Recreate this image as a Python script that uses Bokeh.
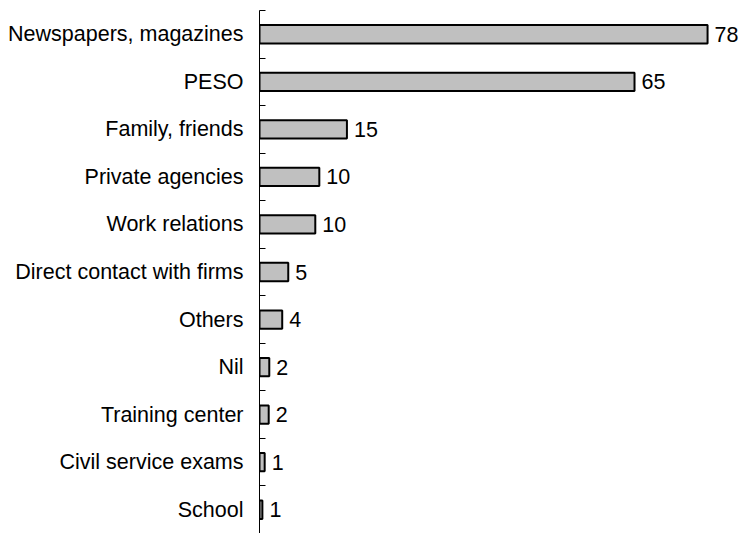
from bokeh.plotting import figure
from bokeh.models import Range1d, FixedTicker
from bokeh.core.properties import value
from bokeh.embed import file_html
from bokeh.resources import INLINE

categories = ["Newspapers, magazines", "PESO", "Family, friends", "Private agencies",
              "Work relations", "Direct contact with firms", "Others", "Nil",
              "Training center", "Civil service exams", "School"]
counts = [77.9, 65.2, 15.2, 10.4, 9.7, 5.0, 3.95, 1.7, 1.6, 0.9, 0.5]
labels = [str(int(v + 0.5)) for v in counts]

n = len(categories)
ys = [n - i - 0.5 for i in range(n)]

FONT = "Liberation Sans"

p = figure(width=741, height=533, output_backend="svg", toolbar_location=None,
           x_range=Range1d(0, 83.8), y_range=Range1d(0, n),
           x_axis_location=None, min_border_top=10, min_border_bottom=0,
           min_border_right=0, min_border_left=259)
p.outline_line_color = None
p.xgrid.visible = False
p.ygrid.visible = False

p.hbar(y=ys, right=counts, left=0, height=0.385, fill_color="#c0c0c0",
       line_color="black", line_width=2)
p.text(x=counts, y=ys, text=labels, x_offset=7, text_baseline="middle",
       text_align="left", text_font=value(FONT), text_font_size="21.5px",
       text_color="black")

ax = p.yaxis[0]
ax.ticker = FixedTicker(ticks=ys, minor_ticks=list(range(n + 1)))
ax.major_label_overrides = {y: c for y, c in zip(ys, categories)}
ax.major_tick_in = 0
ax.major_tick_out = 0
ax.minor_tick_in = 6
ax.minor_tick_out = 0
ax.minor_tick_line_color = "black"
ax.minor_tick_line_width = 1
ax.axis_line_color = "black"
ax.axis_line_width = 1
ax.major_label_standoff = 16
ax.major_label_text_font = FONT
ax.major_label_text_font_size = "21.5px"
ax.major_label_text_color = "black"

open("out.html", "w").write(file_html(p, INLINE))
